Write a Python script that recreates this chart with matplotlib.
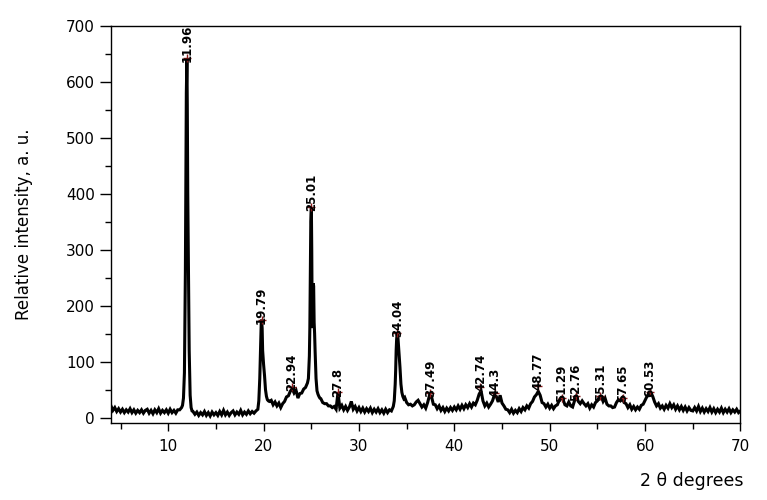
import numpy as np
import matplotlib
matplotlib.use("Agg")
import matplotlib.pyplot as plt
from matplotlib.ticker import MultipleLocator
import matplotlib.transforms as mtransforms

nan = np.nan

# background / broad features, read every 0.2 deg from 4.0 to 70.0
# (nan where a sharp peak is listed separately below)
base_start, base_step = 4.0, 0.2
base_intensity = [
    21, 13, 18, 11, 16, 10, 15, 9, 14, 10,     # 4.0 - 5.8
    16, 9, 14, 8, 13, 9, 14, 8, 13, 15,        # 6.0 - 7.8
    8, 13, 7, 14, 9, 16, 8, 13, 9, 14,         # 8.0 - 9.8
    8, 15, 9, 13, 8, 14, 14, 18, nan, nan,     # 10.0 - 11.8
    nan, nan, nan, 11, 6, 10, 4, 9, 5, 11,     # 12.0 - 13.8
    4, 9, 3, 10, 5, 9, 4, 11, 5, 13,           # 14.0 - 15.8
    5, 10, 4, 9, 12, 5, 10, 6, 13, 5,          # 16.0 - 17.8
    10, 6, 12, 7, 11, 8, 12, 15, nan, nan,     # 18.0 - 19.8
    nan, nan, nan, 29, 31, 23, 28, 21, 26, 18, # 20.0 - 21.8
    25, 29, 37, 39, 47, 52, 44, 49, 35, 43,    # 22.0 - 23.8
    44, 51, 54, 62, nan, nan, nan, nan, nan, nan,  # 24.0 - 25.8
    34, 27, 25, 25, 21, 21, 18, 20, 15, 45,    # 26.0 - 27.8
    17, 22, 14, 20, 13, 19, 29, 15, 20, 12,    # 28.0 - 29.8
    18, 11, 17, 10, 16, 11, 17, 9, 15, 10,     # 30.0 - 31.8
    16, 9, 14, 8, 15, 9, 14, 12, 20, nan,      # 32.0 - 33.8
    nan, nan, nan, nan, 36, 27, 23, 24, 21, 23,  # 34.0 - 35.8
    28, 31, 25, 19, 23, 17, 27, 40, 38, 24,    # 36.0 - 37.8
    23, 16, 21, 13, 18, 11, 17, 12, 18, 13,    # 38.0 - 39.8
    19, 14, 21, 15, 22, 16, 23, 18, 25, 19,    # 40.0 - 41.8
    26, 23, 31, 42, 48, 30, 21, 26, 19, 24,    # 42.0 - 43.8
    30, 40, 38, 28, 40, 26, 21, 15, 14, 9,     # 44.0 - 45.8
    15, 8, 13, 9, 16, 11, 18, 14, 21, 17,      # 46.0 - 47.8
    25, 29, 37, 41, 47, 40, 27, 25, 19, 24,    # 48.0 - 49.8
    17, 22, 16, 21, 23, 31, 35, 32, 23, 21,    # 50.0 - 51.8
    28, 21, 19, 30, 38, 29, 25, 30, 25, 21,    # 52.0 - 53.8
    25, 17, 23, 19, 27, 30, 37, 38, 29, 35,    # 54.0 - 55.8
    24, 21, 21, 18, 19, 27, 32, 30, 35, 27,    # 56.0 - 57.8
    25, 18, 23, 15, 20, 14, 19, 15, 22, 24,    # 58.0 - 59.8
    31, 38, 43, 45, 38, 28, 21, 25, 17, 21,    # 60.0 - 61.8
    15, 22, 17, 25, 18, 23, 15, 21, 14, 20,    # 62.0 - 63.8
    13, 19, 12, 18, 13, 12, 18, 12, 20, 11,    # 64.0 - 65.8
    17, 10, 16, 11, 18, 10, 16, 9, 15, 10,     # 66.0 - 67.8
    17, 9, 15, 10, 16, 9, 14, 10, 15, 9,       # 68.0 - 69.8
    12,                                        # 70.0
]

# sharp peaks, read at finer steps
peak1_x = [11.5, 11.6, 11.7, 11.8, 11.85, 11.9, 11.96, 12.0, 12.05, 12.1, 12.2, 12.3, 12.4, 12.5]
peak1_y = [22, 35, 80, 260, 430, 580, 642, 560, 400, 300, 120, 40, 18, 12]
peak2_x = [19.5, 19.6, 19.7, 19.75, 19.79, 19.85, 19.9, 20.0, 20.1, 20.2, 20.3, 20.4, 20.5]
peak2_y = [30, 70, 140, 168, 175, 160, 120, 95, 75, 50, 38, 32, 30]
peak3_x = [24.7, 24.8, 24.85, 24.9, 24.95, 25.01, 25.05, 25.1, 25.15, 25.2, 25.25, 25.3,
           25.35, 25.4, 25.5, 25.6, 25.7, 25.8, 25.9]
peak3_y = [70, 110, 160, 260, 350, 376, 300, 160, 210, 240, 235, 170,
           150, 120, 70, 48, 42, 38, 35]
peak4_x = [33.7, 33.8, 33.85, 33.9, 33.95, 34.0, 34.04, 34.1, 34.2, 34.3, 34.4, 34.5, 34.6, 34.7]
peak4_y = [30, 60, 85, 120, 140, 150, 152, 140, 115, 90, 60, 45, 38, 34]

# labelled peaks
peak_pos = [11.96, 19.79, 22.94, 25.01, 27.8, 34.04, 37.49, 42.74, 44.3,
            48.77, 51.29, 52.76, 55.31, 57.65, 60.53]
peak_height = [642, 174, 55, 376, 45, 152, 44, 55, 44, 56, 35, 38, 38, 35, 45]
peak_labels = ["11.96", "19.79", "22.94", "25.01", "27.8", "34.04", "37.49", "42.74",
               "44.3", "48.77", "51.29", "52.76", "55.31", "57.65", "60.53"]

# assemble the pattern
bx = np.round(base_start + base_step * np.arange(len(base_intensity)), 1)
by = np.array(base_intensity, dtype=float)
tt = np.concatenate([bx, peak1_x, peak2_x, peak3_x, peak4_x])
ii = np.concatenate([by, peak1_y, peak2_y, peak3_y, peak4_y])
keep = ~np.isnan(ii)
tt, ii = tt[keep], ii[keep]
order = np.argsort(tt)
tt, ii = tt[order], ii[order]

plt.rcParams['font.family'] = ['DejaVu Sans']

fig = plt.figure(figsize=(7.67, 5.0), dpi=100)
ax = fig.add_axes([0.1447, 0.1546, 0.8207, 0.794])

ax.plot(tt, ii, color='black', lw=2.2, solid_joinstyle='miter')
ax.plot(peak_pos, peak_height, linestyle='none', marker='+', color='#8b1a1a',
        markersize=6, mew=1.0)

offset = mtransforms.offset_copy(ax.transData, fig=fig, x=0, y=-3, units='points')
for xp, yp, lab in zip(peak_pos, peak_height, peak_labels):
    ax.text(xp, yp, lab, rotation=90, ha='center', va='bottom', fontsize=8.5,
            fontweight='bold', transform=offset)

ax.set_xlim(4, 70)
ax.set_ylim(-9, 700)
ax.xaxis.set_major_locator(MultipleLocator(10))
ax.xaxis.set_minor_locator(MultipleLocator(5))
ax.yaxis.set_major_locator(MultipleLocator(100))
ax.yaxis.set_minor_locator(MultipleLocator(50))
ax.tick_params(axis='y', which='major', direction='out', length=8, width=1, pad=3.5, labelsize=11)
ax.tick_params(axis='y', which='minor', direction='out', length=4, width=1)
ax.tick_params(axis='x', which='major', direction='out', length=5.5, width=1, pad=6, labelsize=11)
ax.tick_params(axis='x', which='minor', direction='out', length=4.5, width=1)
for sp in ax.spines.values():
    sp.set_linewidth(1.0)

ax.set_ylabel("Relative intensity, a. u.", fontsize=12, labelpad=24)
fig.text(0.969, 0.038, "2 \u03b8 degrees", ha='right', va='center', fontsize=12.5)

fig.savefig("out.png", dpi=100)
